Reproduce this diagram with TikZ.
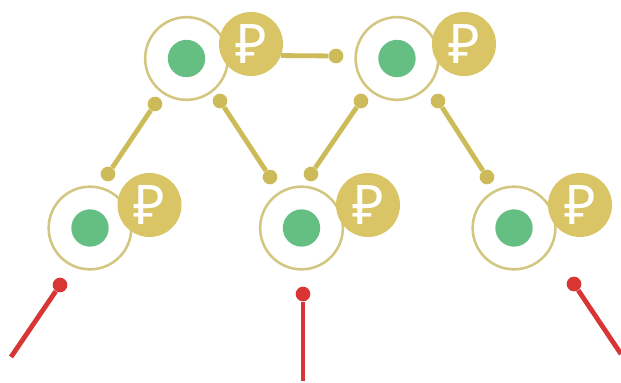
\documentclass[tikz,border=0pt]{standalone}
\usepackage{fontspec}
\setmainfont{Noto Sans}
\definecolor{ringc}{HTML}{D3C680}
\definecolor{goldc}{HTML}{DAC566}
\definecolor{linkc}{HTML}{CDBB5A}
\definecolor{greenc}{HTML}{66BF82}
\definecolor{redc}{HTML}{D93535}
\tikzset{
  ring/.style={circle,draw=ringc,line width=1.9pt,fill=white,minimum size=62pt,inner sep=0pt},
  dotg/.style={circle,fill=greenc,minimum size=28pt,inner sep=0pt},
  coin/.style={circle,fill=goldc,minimum size=48pt,inner sep=0pt,text=white,font=\fontsize{41}{41}\selectfont},
  pin/.style={circle,fill=linkc,minimum size=11pt,inner sep=0pt},
  redpin/.style={circle,fill=redc,minimum size=11pt,inner sep=0pt},
  link/.style={draw=linkc,line width=3.6pt},
  redl/.style={draw=redc,line width=3.6pt}
}
\begin{document}
\begin{tikzpicture}[x=0.75pt,y=-0.75pt]
\useasboundingbox (0,0) rectangle (621,382);
\fill[white] (0,0) rectangle (621,382);
\foreach \n/\x/\y/\cx/\cy in {a/186.5/58.5/251/44,b/397/58.5/464/44,c/90/228/149.5/205,d/301.5/228/368/205,e/514/228/580/205}{
  \node[ring] (r\n) at (\x,\y) {};
  \node[dotg] (g\n) at (\x,\y) {};
  \node[coin] (c\n) at (\cx,\cy) {₽};
}
\node[pin] (p0) at (336,56) {};
\node[pin] (p1) at (155,104) {};
\node[pin] (p2) at (108,174) {};
\node[pin] (p3) at (220,101) {};
\node[pin] (p4) at (270,177) {};
\node[pin] (p5) at (361,101) {};
\node[pin] (p6) at (311,174) {};
\node[pin] (p7) at (438,101) {};
\node[pin] (p8) at (487,177) {};
\draw[link] (ca.-21) -- (p0);
\draw[link] (p1) -- (p2);
\draw[link] (p3) -- (p4);
\draw[link] (p5) -- (p6);
\draw[link] (p7) -- (p8);
\node[redpin] (q1) at (60,285) {};
\node[redpin] (q2) at (303,294) {};
\node[redpin] (q3) at (574,284) {};
\coordinate (e1) at (11,357);
\coordinate (e2) at (303,381);
\coordinate (e3) at (621,354);
\draw[redl] (q1) -- (e1);
\draw[redl] (q2) -- (e2);
\draw[redl] (q3) -- (e3);
\end{tikzpicture}
\end{document}
